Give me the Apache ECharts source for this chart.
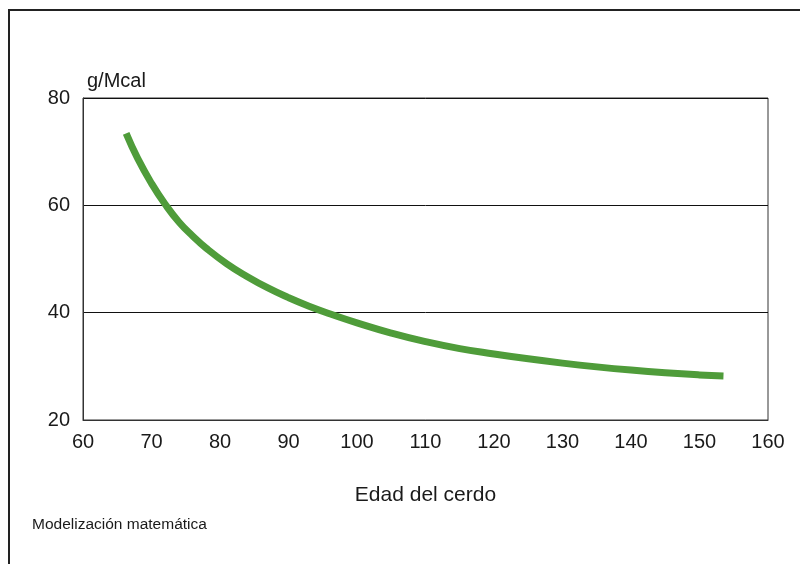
<!DOCTYPE html>
<html>
<head>
<meta charset="utf-8">
<script src="https://cdn.jsdelivr.net/npm/echarts@6/dist/echarts.min.js"></script>
<style>html,body{margin:0;padding:0;background:#fff}#c{width:800px;height:564px}</style>
</head>
<body>
<div id="c"></div>
<script>
// Data
const ages = [66.3, 68, 70, 72, 74, 76, 78, 81, 84, 87, 90, 93, 96, 100, 105, 110, 115, 120, 125, 130, 135, 140, 145, 150, 153.5];
const values = [73.4, 68.7, 64.1, 60.2, 56.9, 54.3, 52.0, 49.1, 46.7, 44.6, 42.8, 41.2, 39.8, 38.1, 36.2, 34.6, 33.3, 32.3, 31.4, 30.6, 29.9, 29.3, 28.8, 28.4, 28.2];
const xTicks = [60, 70, 80, 90, 100, 110, 120, 130, 140, 150, 160];
const yTicks = [20, 40, 60, 80];
const xName = 'Edad del cerdo';
const yName = 'g/Mcal';
const footnote = 'Modelización matemática';

const font = 'Liberation Sans, Arial, Helvetica, sans-serif';
const chart = echarts.init(document.getElementById('c'), null, {renderer: 'canvas'});
chart.setOption({
  animation: false,
  backgroundColor: '#fff',
  grid: {left: 83, right: 32, top: 98, bottom: 144, show: true, borderColor: '#333', borderWidth: 1, backgroundColor: 'transparent'},
  xAxis: {
    type: 'value', min: xTicks[0], max: xTicks[xTicks.length - 1], interval: 10,
    name: xName, nameLocation: 'middle', nameGap: 65,
    nameTextStyle: {fontFamily: font, fontSize: 21, color: '#1a1a1a'},
    axisLine: {show: true, lineStyle: {color: '#333', width: 1}},
    axisTick: {show: false},
    splitLine: {show: false},
    axisLabel: {fontFamily: font, fontSize: 20, color: '#1a1a1a', margin: 12}
  },
  yAxis: {
    type: 'value', min: yTicks[0], max: yTicks[yTicks.length - 1], interval: 20,
    name: yName, nameLocation: 'end', nameGap: 7,
    nameTextStyle: {fontFamily: font, fontSize: 20, color: '#1a1a1a', align: 'left', padding: [0, 0, 0, 4]},
    axisLine: {show: true, lineStyle: {color: '#333', width: 1}},
    axisTick: {show: false},
    splitLine: {show: true, lineStyle: {color: '#111', width: 1}},
    axisLabel: {fontFamily: font, fontSize: 20, color: '#1a1a1a', margin: 13}
  },
  series: [{
    type: 'line',
    data: ages.map((a, i) => [a, values[i]]),
    smooth: 0.5,
    showSymbol: false,
    lineStyle: {color: '#4f9c3a', width: 7, cap: 'butt'}
  }],
  graphic: [
    {type: 'line', shape: {x1: 8, y1: 10, x2: 800, y2: 10}, style: {stroke: '#222', lineWidth: 2}},
    {type: 'line', shape: {x1: 9, y1: 10, x2: 9, y2: 564}, style: {stroke: '#222', lineWidth: 2}},
    {type: 'text', left: 32, top: 517, style: {text: footnote, font: '15.5px ' + font, fill: '#1a1a1a'}}
  ]
});
</script>
</body>
</html>
